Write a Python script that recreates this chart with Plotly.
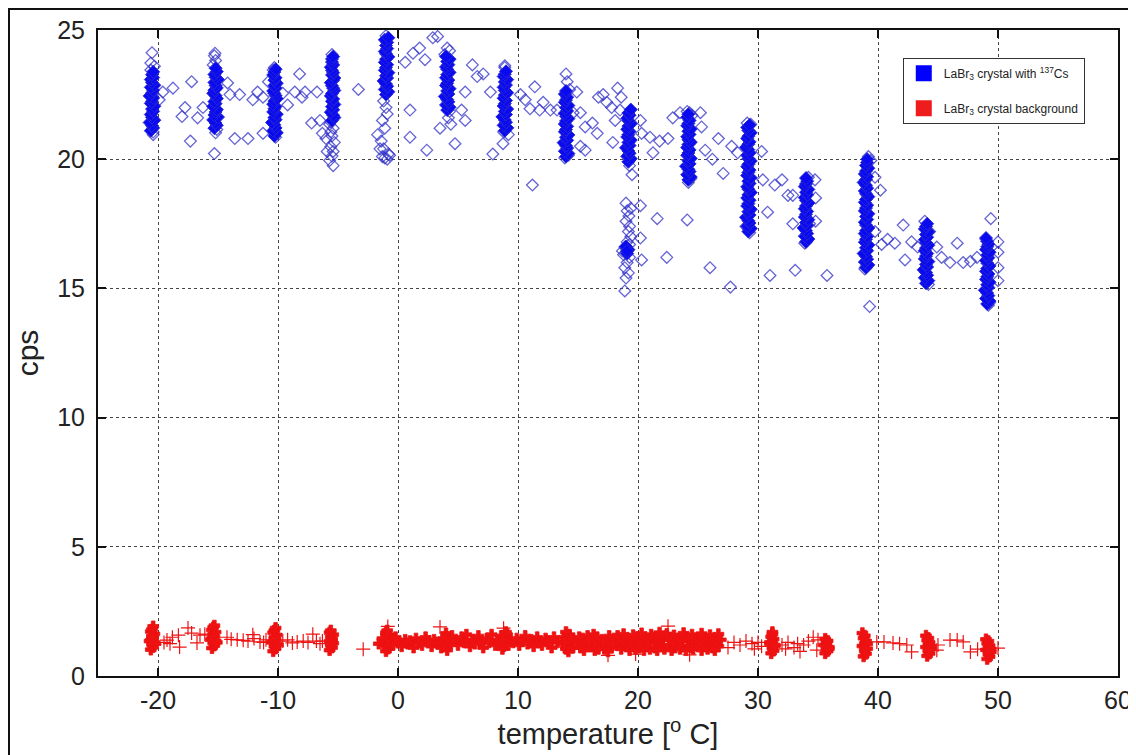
import plotly.graph_objects as go

# ---------------- Blue: LaBr3 crystal with 137Cs (dense cluster cores) ----------------
c1_t = [-20.6,-20.4,-20.5,-20.7,-20.3,-20.5,-20.6,-20.4,-20.5,-20.3,-20.6,-20.5,-20.4,-20.7,-20.5,-20.4,-20.6,-20.3,-20.5,-20.6,-20.4,-20.5,-20.4]
c1_c = [21.10,21.21,21.30,21.42,21.51,21.62,21.73,21.85,21.94,22.05,22.16,22.24,22.37,22.45,22.56,22.67,22.78,22.86,22.97,23.08,23.16,23.27,23.38]

c2_t = [-15.3,-15.1,-15.2,-15.4,-15.0,-15.3,-15.2,-15.1,-15.4,-15.2,-15.3,-15.1,-15.2,-15.4,-15.3,-15.1,-15.2,-15.3,-15.0,-15.2,-15.3,-15.1,-15.2]
c2_c = [21.20,21.31,21.40,21.52,21.63,21.71,21.83,21.92,22.04,22.15,22.23,22.35,22.46,22.55,22.67,22.76,22.85,22.97,23.08,23.17,23.28,23.39,23.52]

c3_t = [-10.3,-10.1,-10.4,-10.2,-10.3,-10.5,-10.2,-10.3,-10.1,-10.4,-10.3,-10.2,-10.4,-10.3,-10.1,-10.2,-10.3,-10.4,-10.2,-10.3,-10.1,-10.3,-10.2,-10.4,-10.3,-10.2]
c3_c = [20.90,21.02,21.10,21.21,21.33,21.42,21.53,21.61,21.74,21.83,21.95,22.04,22.13,22.25,22.34,22.46,22.55,22.64,22.76,22.85,22.94,23.06,23.15,23.26,23.37,23.48]

c4_t = [-5.5,-5.3,-5.4,-5.6,-5.4,-5.5,-5.3,-5.5,-5.4,-5.6,-5.5,-5.3,-5.4,-5.5,-5.6,-5.4,-5.3,-5.5,-5.4,-5.5,-5.6,-5.4,-5.5,-5.5,-5.4]
c4_c = [21.50,21.61,21.70,21.82,21.91,22.03,22.12,22.24,22.33,22.45,22.54,22.66,22.75,22.84,22.96,23.05,23.14,23.26,23.35,23.44,23.56,23.65,23.76,23.88,23.97]

c5_t = [-1.0,-0.8,-1.1,-0.9,-1.0,-1.2,-0.9,-1.0,-0.8,-1.1,-1.0,-0.9,-1.1,-1.0,-0.8,-1.0,-1.1,-0.9,-1.0,-0.9,-1.1,-0.8]
c5_c = [22.50,22.61,22.70,22.82,22.91,23.03,23.14,23.23,23.35,23.44,23.55,23.66,23.75,23.87,23.96,24.08,24.17,24.28,24.40,24.52,24.62,24.70]

c6_t = [4.1,4.3,4.0,4.2,4.1,3.9,4.2,4.1,4.3,4.0,4.1,4.2,4.0,4.1,4.3,4.1,4.0,4.2,4.1,4.3,4.0]
c6_c = [21.90,22.01,22.10,22.22,22.31,22.43,22.52,22.64,22.73,22.85,22.94,23.06,23.15,23.27,23.36,23.48,23.57,23.66,23.78,23.87,23.97]

c7_t = [8.9,9.1,8.8,9.0,8.9,8.7,9.0,8.9,9.1,8.8,8.9,9.0,8.8,8.9,9.1,8.9,8.8,9.0,8.9,9.1,8.8,8.9,9.0]
c7_c = [21.10,21.22,21.31,21.43,21.52,21.64,21.73,21.85,21.94,22.06,22.15,22.27,22.36,22.48,22.57,22.66,22.78,22.87,22.99,23.08,23.20,23.29,23.40]

c8_t = [14.0,14.2,13.9,14.1,14.0,13.8,14.1,14.0,14.2,13.9,14.0,14.1,13.9,14.0,14.2,14.0,13.9,14.1,14.0,14.2,13.9,14.0,14.1,13.9,14.0]
c8_c = [20.10,20.22,20.31,20.43,20.52,20.64,20.73,20.85,20.94,21.06,21.15,21.27,21.36,21.48,21.57,21.66,21.78,21.87,21.99,22.08,22.20,22.29,22.40,22.52,22.64]

c9_t = [19.2,19.4,19.1,19.3,19.2,19.0,19.3,19.2,19.4,19.1,19.2,19.3,19.1,19.2,19.4,19.2,19.1,19.3,19.2,19.4,19.1,19.2,19.0,19.1]
c9_c = [19.90,20.02,20.11,20.23,20.32,20.44,20.53,20.65,20.74,20.86,20.95,21.07,21.16,21.28,21.37,21.49,21.58,21.70,21.79,21.92,16.35,16.50,16.62,16.45]

c10_t = [24.2,24.4,24.1,24.3,24.2,24.0,24.3,24.2,24.4,24.1,24.2,24.3,24.1,24.2,24.4,24.2,24.1,24.3,24.2,24.4,24.1,24.2,24.3,24.1,24.2]
c10_c = [19.20,19.31,19.40,19.52,19.61,19.73,19.82,19.94,20.03,20.15,20.24,20.36,20.45,20.57,20.66,20.75,20.87,20.96,21.08,21.17,21.29,21.38,21.50,21.62,21.74]

c11_t = [29.2,29.4,29.1,29.3,29.2,29.0,29.3,29.2,29.4,29.1,29.2,29.3,29.1,29.2,29.4,29.2,29.1,29.3,29.2,29.4,29.1,29.2,29.3,29.1,29.2,29.4,29.2,29.1,29.3,29.2,29.0,29.2,29.3,29.1,29.2,29.4,29.2,29.1,29.3]
c11_c = [17.20,17.32,17.41,17.53,17.62,17.75,17.84,17.97,18.06,18.19,18.28,18.41,18.50,18.62,18.71,18.84,18.93,19.06,19.15,19.28,19.37,19.49,19.58,19.71,19.80,19.93,20.02,20.15,20.24,20.37,20.46,20.58,20.67,20.80,20.89,21.02,21.11,21.23,21.32]

c12_t = [34.0,34.2,33.9,34.1,34.0,33.8,34.1,34.0,34.2,33.9,34.0,34.1,33.9,34.0,34.2,34.0,33.9,34.1,34.0,34.2,33.9,34.0,34.1,34.0]
c12_c = [16.80,16.91,17.02,17.12,17.23,17.34,17.44,17.55,17.66,17.76,17.87,17.98,18.08,18.19,18.30,18.40,18.51,18.62,18.72,18.83,18.94,19.04,19.15,19.27]

c13_t = [39.0,39.2,38.9,39.1,39.0,38.8,39.1,39.0,39.2,38.9,39.0,39.1,38.9,39.0,39.2,39.0,38.9,39.1,39.0,39.2,38.9,39.0,39.1,38.9,39.0,39.2,39.0,38.9,39.1,39.0,38.8,39.0,39.1,38.9,39.0,39.2,39.0,39.1,39.1]
c13_c = [15.80,15.91,16.02,16.13,16.24,16.35,16.46,16.57,16.68,16.79,16.90,17.01,17.12,17.23,17.34,17.45,17.56,17.67,17.78,17.89,18.00,18.11,18.22,18.33,18.44,18.55,18.66,18.77,18.88,18.99,19.10,19.21,19.32,19.43,19.54,19.65,19.76,19.87,20.00]

c14_t = [44.0,44.2,43.9,44.1,44.0,43.8,44.1,44.0,44.2,43.9,44.0,44.1,43.9,44.0,44.2,44.0,43.9,44.1,44.0,44.2,43.9,44.0,44.1]
c14_c = [15.20,15.30,15.41,15.51,15.62,15.72,15.83,15.93,16.04,16.14,16.25,16.35,16.46,16.56,16.67,16.77,16.88,16.98,17.09,17.19,17.30,17.40,17.50]

c15_t = [49.1,49.3,49.0,49.2,49.1,48.9,49.2,49.1,49.3,49.0,49.1,49.2,49.0,49.1,49.3,49.1,49.0,49.2,49.1,49.3,49.0,49.1,49.2,49.1,49.0]
c15_c = [14.40,14.51,14.61,14.72,14.82,14.93,15.03,15.14,15.24,15.35,15.45,15.56,15.66,15.77,15.87,15.98,16.08,16.19,16.29,16.40,16.50,16.61,16.71,16.82,16.95]

# individual (open) points: cluster edges, tails and points between the temperature steps
scat_t = [-20.5,-20.6,-20.4,-20.3,-20.6,-20.4,
          -15.25,-15.3,-15.2,-15.3,-15.2,-15.4,-15.1,
          -10.3,-10.2,-10.4,-10.3,
          -5.7,-5.4,-5.6,-5.5,-5.3,-5.6,-5.4,-5.5,-5.7,-5.4,-5.5,-5.6,
          -1.0,-1.2,-1.0,-0.9,-1.3,-1.1,-1.4,-1.2,-0.8,-1.1,-0.7,-0.9,
          4.1,4.2,4.4,4.3,3.9,4.3,
          8.9,9.2,8.9,8.8,9.1,
          14.0,14.1,14.3,13.9,14.2,
          19.0,19.4,19.25,19.0,19.3,19.2,19.4,19.1,18.9,19.2,19.0,18.8,19.3,19.1,18.9,19.2,19.0,18.9,19.3,19.0,18.7,19.1,19.5,19.3,
          24.1,24.3,24.5,24.2,24.4,
          29.1,29.3,29.2,29.4,29.0,
          34.3,33.9,34.2,34.1,
          39.3,39.4,38.9,39.2,39.0,
          44.3,43.9,44.2,44.1,
          49.4,49.0,49.3,49.2,
          -19.6,-18.75,-17.2,-17.75,-18.0,-17.3,-16.7,-16.25,-19.9,
          -14.2,-14.0,-13.2,-13.6,-12.5,-12.1,-11.7,-11.25,-11.25,-10.8,
          -9.6,-9.2,-8.6,-8.2,-8.0,-7.75,-7.2,-6.75,-6.5,-6.3,-3.3,-6.0,-5.9,
          -1.7,-1.5,-1.3,
          0.6,1.0,1.0,1.25,1.8,2.25,2.9,3.3,2.4,3.5,
          6.2,6.6,7.1,5.6,5.3,5.6,4.75,7.7,7.9,8.75,
          10.2,10.6,11.4,11.0,11.8,12.1,12.7,13.25,11.2,
          14.9,14.6,15.2,15.6,16.6,16.2,15.2,15.6,
          16.7,17.1,17.4,17.8,18.1,17.9,18.3,18.6,18.5,
          20.2,20.3,21.0,21.8,22.5,21.25,21.6,22.4,20.2,20.2,20.3,
          22.9,23.5,25.2,25.3,25.6,26.2,26.7,27.1,27.8,28.3,24.1,26.0,27.7,
          30.3,30.4,31.4,32.0,30.8,32.5,32.9,32.9,31.0,33.1,35.75,34.75,34.8,34.8,
          39.75,40.2,39.75,40.3,40.8,41.4,42.1,42.25,42.8,43.3,
          44.9,45.3,46.0,46.6,47.1,47.7,48.25,50.0,50.0,50.0,50.0]
scat_c = [24.12,23.72,20.95,23.60,23.45,21.05,
          24.10,24.00,23.82,20.22,21.02,23.65,21.15,
          23.55,20.85,23.45,21.00,
          21.35,21.20,21.05,20.90,20.65,20.48,20.30,20.12,19.95,19.75,24.05,21.45,
          24.78,22.25,22.00,21.75,21.50,21.20,20.70,20.40,20.20,20.05,20.15,20.00,
          24.30,21.60,21.35,24.20,24.05,21.85,
          23.62,20.95,23.55,21.05,21.20,
          23.30,23.00,22.70,20.05,20.15,
          18.30,18.10,17.80,17.60,17.40,17.20,17.00,16.80,16.60,16.50,16.40,16.30,16.20,16.00,15.80,15.60,15.40,14.90,16.70,16.55,16.45,18.00,19.40,19.75,
          21.85,21.80,21.70,19.10,19.25,
          21.40,17.15,17.30,21.35,17.40,
          17.50,16.75,19.30,16.85,
          14.30,19.95,15.75,20.10,15.85,
          17.20,17.60,15.15,15.30,
          17.70,16.90,14.45,14.35,
          22.6,22.75,23.0,22.0,21.65,20.7,21.6,22.0,22.3,
          22.95,22.5,22.5,20.8,20.8,22.3,22.6,22.4,21.0,23.0,
          22.55,22.1,22.6,23.3,22.4,22.6,21.4,22.6,21.5,21.0,22.7,20.8,20.3,
          20.95,20.4,20.1,
          23.75,21.9,20.85,24.1,24.3,23.85,24.7,24.75,20.35,21.2,
          23.65,23.2,23.3,22.6,21.9,21.5,20.6,22.6,20.2,20.6,
          22.5,22.3,22.8,21.95,21.9,22.2,21.9,21.9,19.0,
          22.6,21.8,21.8,21.25,21.0,21.4,20.5,20.35,
          22.4,22.5,22.2,22.0,21.5,20.65,22.75,22.4,21.9,
          21.5,21.0,20.85,20.7,20.8,20.25,17.7,16.2,18.2,16.95,16.1,
          21.6,21.8,21.8,21.25,20.35,20.0,20.8,19.45,20.5,20.25,17.65,15.8,15.05,
          20.3,19.2,19.0,19.2,17.95,18.6,18.6,17.5,15.5,15.7,15.5,19.2,18.5,17.6,
          19.3,18.8,17.2,16.7,16.9,16.75,17.45,16.1,16.8,16.6,
          16.6,16.2,16.0,16.75,16.0,16.05,16.2,16.8,16.4,15.8,15.3]

# ---------------- Red: LaBr3 crystal background ----------------
r1_t = [-20.6,-20.4,-20.5,-20.3,-20.6,-20.4,-20.5,-20.3,-20.6,-20.5,-20.4,-20.5,-20.7,-20.2]
r1_c = [1.02,1.12,1.22,1.30,1.38,1.46,1.55,1.63,1.72,1.80,1.92,1.50,1.35,1.25]
r2_t = [-15.5,-15.3,-15.4,-15.2,-15.5,-15.3,-15.4,-15.2,-15.5,-15.4,-15.3,-15.4,-15.6,-15.1]
r2_c = [1.08,1.18,1.28,1.36,1.45,1.53,1.62,1.70,1.78,1.88,1.95,1.55,1.40,1.30]
r3_t = [-10.4,-10.2,-10.3,-10.1,-10.4,-10.2,-10.3,-10.1,-10.4,-10.3,-10.2,-10.3,-10.5,-10.0]
r3_c = [0.96,1.06,1.15,1.24,1.33,1.42,1.50,1.59,1.68,1.76,1.86,1.45,1.30,1.20]
r4_t = [-5.7,-5.5,-5.6,-5.4,-5.7,-5.5,-5.6,-5.4,-5.7,-5.6,-5.5,-5.6]
r4_c = [1.00,1.10,1.18,1.27,1.35,1.43,1.52,1.60,1.68,1.76,1.40,1.25]
r5_t = [-1.0,-0.8,-0.9,-0.7,-1.1,-0.8,-0.9,-0.7,-1.0,-0.9,-0.8,-1.2,-0.6]
r5_c = [0.96,1.06,1.15,1.24,1.33,1.42,1.50,1.59,1.68,1.76,1.30,1.20,1.40]
r6_t = [31.1,31.3,31.2,31.4,31.0,31.2,31.3,31.1,31.2,31.0,31.4,31.2]
r6_c = [0.88,0.98,1.07,1.16,1.25,1.34,1.43,1.52,1.62,1.30,1.20,1.70]
r7_t = [35.6,35.8,35.7,35.9,35.5,35.7,35.8,35.6,35.7,35.9]
r7_c = [0.88,0.96,1.04,1.12,1.20,1.28,1.36,1.44,1.15,1.05]
r8_t = [38.8,39.0,38.9,39.1,38.7,38.9,39.0,38.8,38.9,38.7,39.1,38.9]
r8_c = [0.76,0.86,0.96,1.06,1.16,1.26,1.36,1.46,1.56,1.66,1.25,1.05]
r9_t = [44.1,44.3,44.2,44.4,44.0,44.2,44.3,44.1,44.2,44.0,44.4,44.2]
r9_c = [0.78,0.87,0.96,1.04,1.12,1.21,1.30,1.38,1.47,1.56,1.15,1.00]
r10_t = [49.1,49.3,49.2,49.4,49.0,49.2,49.3,49.1,49.2,49.0,49.4,49.2]
r10_c = [0.66,0.75,0.84,0.93,1.01,1.10,1.18,1.26,1.35,1.42,1.05,0.95]

band_t = [-1.6,-1.3,-0.6,-0.4,-0.2,0.1,0.3,0.6,0.8,1.0,1.3,1.5,1.8,2.0,2.3,2.5,2.8,3.0,
          3.3,3.6,3.8,3.9,4.0,4.1,4.2,4.4,4.5,3.7,4.0,3.9,4.3,
          4.8,5.0,5.3,5.5,5.7,6.0,6.2,6.4,6.7,6.9,7.1,7.4,7.6,7.8,8.1,8.3,
          8.5,8.6,8.8,8.9,9.0,9.1,9.3,8.7,9.0,9.2,8.75,
          9.6,9.9,10.1,10.4,10.6,10.8,11.1,11.3,11.6,11.8,12.0,12.3,12.5,12.8,13.0,13.3,
          13.7,13.8,14.0,14.1,14.2,14.3,14.5,14.6,14.0,14.2,14.4,13.9,
          15.0,15.2,15.4,15.6,15.8,16.0,16.2,16.4,16.6,16.8,17.0,17.2,17.4,17.6,17.8,18.0,18.2,18.4,
          15.1,15.5,15.9,16.3,16.7,17.1,17.5,17.9,18.3,
          18.6,18.9,19.3,19.5,19.8,20.1,20.5,20.7,21.0,21.4,21.6,21.9,22.2,22.6,22.8,23.1,23.5,23.7,24.0,24.4,24.6,24.9,25.3,25.5,25.8,26.2,26.4,26.7,
          18.7,19.1,19.35,19.7,19.95,20.3,20.55,20.9,21.15,21.5,21.75,22.05,22.4,22.65,22.95,23.3,23.55,23.9,24.15,24.5,24.75,25.1,25.35,25.7,25.95,26.3,26.55,26.9,
          18.8,19.6,20.3,21.1,21.8,22.4,23.0,23.8,24.5,25.3,26.0,26.7]
band_c = [1.25,1.45,1.35,1.20,1.50,1.30,1.15,1.40,1.25,1.35,1.10,1.45,1.30,1.20,1.50,1.35,1.15,1.40,
          1.30,1.10,1.45,1.20,1.65,1.00,1.40,1.25,1.55,1.30,1.50,1.15,1.35,
          1.35,1.20,1.50,1.30,1.60,1.15,1.40,1.25,1.55,1.30,1.10,1.45,1.30,1.60,1.20,1.40,
          1.30,1.55,1.15,1.45,1.25,1.60,1.35,1.05,1.70,1.20,1.40,
          1.30,1.45,1.20,1.35,1.55,1.25,1.40,1.15,1.50,1.30,1.20,1.45,1.35,1.10,1.50,1.30,
          1.25,1.50,1.05,1.40,1.20,1.60,1.30,1.10,1.70,0.95,1.45,1.30,
          1.30,1.10,1.45,1.25,1.55,1.15,1.35,1.00,1.50,1.20,1.40,1.05,1.30,1.55,1.15,1.45,1.20,1.35,
          1.50,1.00,1.35,1.60,1.05,1.30,0.95,1.25,1.55,
          1.05,1.20,1.00,1.15,1.05,1.10,1.00,1.20,1.05,1.10,1.00,1.15,1.05,1.20,1.00,1.10,1.05,1.15,1.00,1.10,1.05,1.20,1.00,1.15,1.05,1.10,1.00,1.15,
          1.35,1.45,1.30,1.40,1.50,1.35,1.45,1.30,1.50,1.40,1.35,1.45,1.55,1.40,1.30,1.45,1.35,1.50,1.40,1.30,1.45,1.35,1.50,1.40,1.30,1.45,1.35,1.40,
          1.62,1.58,1.65,1.60,1.68,1.63,1.57,1.66,1.60,1.64,1.58,1.62]

# individual background crosses (between steps and outliers)
rs_t = [-19.5,-19.25,-19.0,-18.8,-18.3,-18.2,-17.5,-17.2,-16.75,-16.5,-16.1,
        -14.25,-13.9,-13.4,-12.9,-12.5,-12.1,-12.0,-11.5,-11.2,-11.0,
        -9.6,-9.2,-8.8,-8.4,-7.9,-7.5,-7.1,-6.8,-6.5,-6.3,-2.9,
        -0.85,3.5,8.8,22.5,17.5,19.8,24.3,
        27.5,28.0,28.5,29.0,29.5,29.7,30.0,30.3,
        32.0,32.3,32.5,33.0,33.3,33.5,33.8,34.2,34.6,34.9,35.0,
        39.9,40.5,41.25,41.8,42.4,42.8,
        44.9,45.0,46.0,46.6,47.1,47.7,48.3,50.0]
rs_c = [1.30,1.39,1.25,1.50,1.58,1.12,1.86,1.66,1.28,1.58,1.62,
        1.50,1.42,1.40,1.38,1.35,1.60,1.45,1.32,1.30,1.40,
        1.35,1.40,1.28,1.32,1.35,1.30,1.62,1.35,1.25,1.35,1.04,
        1.92,1.90,1.85,1.93,0.80,0.85,0.82,
        1.10,1.30,1.20,1.35,1.25,1.05,1.30,1.15,
        1.20,1.05,1.30,1.10,1.25,0.95,1.20,1.35,1.50,1.00,1.40,
        1.32,1.32,1.28,1.25,1.20,0.93,
        1.00,1.20,1.39,1.39,1.32,0.93,1.04,1.08]

x_ticks = [-20, -10, 0, 10, 20, 30, 40, 50, 60]
x_tick_labels = ["-20", "-10", "0", "10", "20", "30", "40", "50", "60"]
y_ticks = [0, 5, 10, 15, 20, 25]
y_tick_labels = ["0", "5", "10", "15", "20", "25"]

blue_core_t = c1_t + c2_t + c3_t + c4_t + c5_t + c6_t + c7_t + c8_t + c9_t + c10_t + c11_t + c12_t + c13_t + c14_t + c15_t
blue_core_c = c1_c + c2_c + c3_c + c4_c + c5_c + c6_c + c7_c + c8_c + c9_c + c10_c + c11_c + c12_c + c13_c + c14_c + c15_c
red_core_t = r1_t + r2_t + r3_t + r4_t + r5_t + r6_t + r7_t + r8_t + r9_t + r10_t + band_t
red_core_c = r1_c + r2_c + r3_c + r4_c + r5_c + r6_c + r7_c + r8_c + r9_c + r10_c + band_c

FONT = "Liberation Sans, Arial, sans-serif"
BLUE_OPEN = "rgba(50,50,200,0.75)"
BLUE_CORE = "rgb(10,10,240)"
RED = "rgb(238,18,18)"

fig = go.Figure()
fig.add_trace(go.Scatter(
    x=scat_t, y=scat_c, mode="markers", showlegend=False,
    marker=dict(symbol="diamond-open", size=9, color=BLUE_OPEN, line=dict(width=1.3, color=BLUE_OPEN)),
))
fig.add_trace(go.Scatter(
    x=blue_core_t, y=blue_core_c, mode="markers", showlegend=False,
    marker=dict(symbol="diamond", size=10, color=BLUE_CORE, line=dict(width=1, color="rgba(40,40,210,0.9)")),
))
fig.add_trace(go.Scatter(
    x=rs_t, y=rs_c, mode="markers", showlegend=False,
    marker=dict(symbol="cross-thin-open", size=10, color=RED, line=dict(width=1.2, color="rgb(215,40,40)")),
))
fig.add_trace(go.Scatter(
    x=red_core_t, y=red_core_c, mode="markers", showlegend=False,
    marker=dict(symbol="cross", size=9, color=RED, line=dict(width=0.8, color=RED)),
))
# legend swatches
fig.add_trace(go.Scatter(
    x=[None], y=[None], mode="markers", name="LaBr<sub>3</sub> crystal with <sup>137</sup>Cs",
    legendgroup="a", marker=dict(symbol="square", size=16, color="#0000ff"),
))
fig.add_trace(go.Scatter(
    x=[None], y=[None], mode="markers", name="LaBr<sub>3</sub> crystal background",
    legendgroup="b", marker=dict(symbol="square", size=16, color="#ee1c1c"),
))

axis_common = dict(
    showline=True, linecolor="#111", linewidth=2, mirror="allticks",
    ticks="inside", ticklen=8, tickwidth=1.5, tickcolor="#111",
    showgrid=True, gridcolor="#444", gridwidth=1, griddash="dot",
    zeroline=False, automargin=False,
    tickfont=dict(family=FONT, size=25, color="#222"),
)

# the page adds an 8 px body margin, so the figure itself starts at (8, 8)
fig.update_layout(
    width=1128, height=747,
    margin=dict(l=90, r=18, t=22, b=79),
    paper_bgcolor="white", plot_bgcolor="white",
    font=dict(family=FONT, color="#222"),
    xaxis=dict(range=[-25, 60], tickvals=x_ticks, ticktext=x_tick_labels, ticklabelstandoff=1,
               title=dict(text="temperature [<sup>o</sup> C]", font=dict(family=FONT, size=29, color="#222"), standoff=8),
               **axis_common),
    yaxis=dict(range=[0, 25], tickvals=y_ticks, ticktext=y_tick_labels, ticklabelstandoff=6,
               title=dict(text="cps", font=dict(family=FONT, size=30, color="#222"), standoff=10),
               **axis_common),
    legend=dict(x=0.789, y=0.957, xanchor="left", yanchor="top",
                bgcolor="white", bordercolor="#333", borderwidth=1,
                font=dict(family=FONT, size=12, color="#222"),
                itemwidth=30, tracegroupgap=16),
    shapes=[dict(type="rect", xref="paper", yref="paper",
                 x0=-89 / 1020, x1=1.05, y0=-0.2, y1=1 + 21 / 646,
                 line=dict(color="#111", width=2), layer="below")],
)

fig.write_html("out.html")
